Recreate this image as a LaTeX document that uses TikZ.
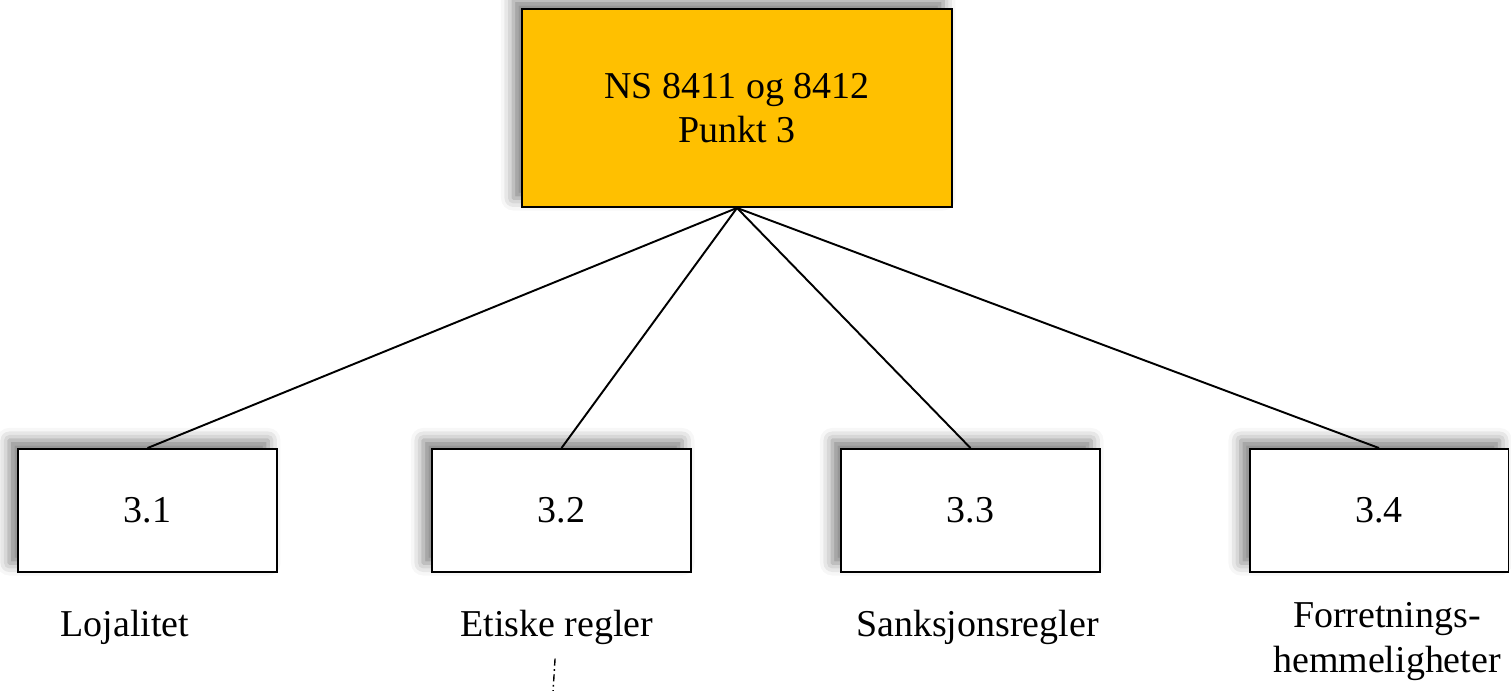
\documentclass[tikz,border=0pt]{standalone}
\usepackage{fontspec}
\setmainfont{Liberation Serif}
\usetikzlibrary{positioning,shadows.blur}
\definecolor{punktgul}{HTML}{FFC000}
\tikzset{
every node/.style={font=\fontsize{21.6}{25.5}\selectfont, align=center},
punkt/.style={draw, line width=1.1pt, fill=white, inner sep=0pt, minimum width=5.18cm, minimum height=2.46cm,
  blur shadow={shadow xshift=-5pt, shadow yshift=5pt, shadow blur radius=7pt, shadow opacity=50}},
hoved/.style={punkt, fill=punktgul, minimum width=8.6cm, minimum height=3.96cm},
tema/.style={inner sep=0pt, anchor=base},
linje/.style={line width=1.1pt},
strek/.style={line width=0.8pt, dash pattern=on 4pt off 2pt on 1pt off 2pt},
}

\begin{document}
\begin{tikzpicture}[x=0.02cm, y=-0.02cm]
    \useasboundingbox (0,0) rectangle (1511,690);

    \node[hoved] (ns) at (737,108) {NS 8411 og 8412\\Punkt 3};

    \node[punkt] (p1) at (147.5,510.5) {3.1};
    \node[punkt] (p2) at (561.5,510.5) {3.2};
    \node[punkt] (p3) at (970.5,510.5) {3.3};
    \node[punkt] (p4) at (1379,510.5) {3.4};

    \node[tema] (lojalitet) at (125,636) {Lojalitet};
    \node[tema] (etiske) at (557,636) {Etiske regler};
    \node[tema] (sanksjon) at (977.5,636) {Sanksjonsregler};
    \node[tema] (forretning) at (1387,672) {Forretnings-\\hemmeligheter};
    \coordinate (etiskeslutt) at (553,692);

    \draw[linje] (ns.south) -- (p1.north);
    \draw[linje] (ns.south) -- (p2.north);
    \draw[linje] (ns.south) -- (p3.north);
    \draw[linje] (ns.south) -- (p4.north);
    \draw[strek, shorten <=8pt] (etiske) -- (etiskeslutt);

\end{tikzpicture}
\end{document}
